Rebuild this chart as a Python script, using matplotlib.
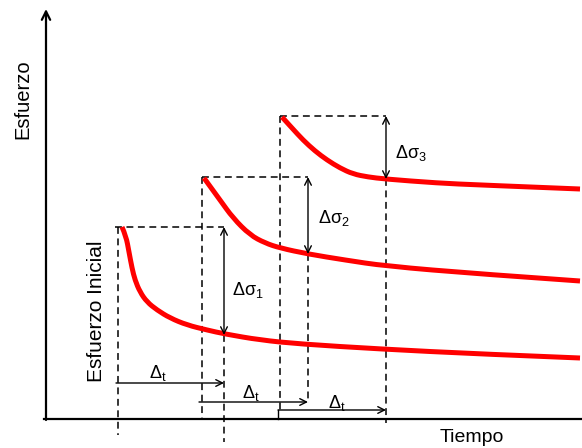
import numpy as np
import matplotlib
matplotlib.use("Agg")
import matplotlib.pyplot as plt
from matplotlib.path import Path
from matplotlib.patches import PathPatch

plt.rcParams['font.family'] = ['Liberation Sans', 'DejaVu Sans']
plt.rcParams['mathtext.fontset'] = 'custom'
plt.rcParams['mathtext.rm'] = 'Liberation Sans'
plt.rcParams['mathtext.it'] = 'Liberation Sans:italic'

# relaxation curves (time, stress) in chart units, y grows downward
curve1_t = [122, 126, 129, 132, 135, 140, 147, 157, 170, 187, 207, 225, 260, 300, 380, 480, 580]
curve1_s = [227, 236, 252, 268, 280, 292, 302, 310, 318, 325, 330, 334, 340, 344, 349, 354, 358]
curve2_t = [204, 212, 220, 233, 250, 265, 280, 308, 345, 385, 480, 580]
curve2_s = [178, 189, 200, 218, 235, 243, 248, 254, 260, 266, 274, 281]
curve3_t = [282, 292, 303, 315, 327, 340, 353, 368, 385, 437, 480, 580]
curve3_s = [117, 128, 140, 151, 160, 168, 174, 177, 179, 183, 185, 189]

# loading steps
start_t = [118, 202, 280]
end_t = [224, 308, 386]
initial_s = [227, 177, 116]
relaxed_s = [335, 254, 179]
left_guide_bottom = [435, 418, 410]
right_guide_bottom = [442, 403, 423]
dt_level = [383, 402, 410]
dt_start = [116, 199, 278]
dsig_labels = [r'$\mathrm{\Delta\sigma_1}$', r'$\mathrm{\Delta\sigma_2}$', r'$\mathrm{\Delta\sigma_3}$']
dsig_label_pos = [(232, 290), (318, 218), (395, 153)]
dt_label_pos = [(158, 373), (251, 393), (337, 403)]

origin_x, origin_y = 46, 419


def smooth_path(t, s):
    # quadratic bezier through midpoints, using the read points as controls
    pts = list(zip(t, s))
    verts = [pts[0]]
    codes = [Path.MOVETO]
    for k in range(1, len(pts) - 1):
        mid = ((pts[k][0] + pts[k + 1][0]) / 2, (pts[k][1] + pts[k + 1][1]) / 2)
        if k == len(pts) - 2:
            mid = pts[k + 1]
        verts += [pts[k], mid]
        codes += [Path.CURVE3, Path.CURVE3]
    return Path(verts, codes)


fig = plt.figure(figsize=(5.82, 4.48), dpi=100)
ax = fig.add_axes([0, 0, 1, 1])
ax.set_xlim(0, 582)
ax.set_ylim(448, 0)
ax.axis('off')

red = '#ff0000'
for t, s in [(curve1_t, curve1_s), (curve2_t, curve2_s), (curve3_t, curve3_s)]:
    ax.add_patch(PathPatch(smooth_path(t, s), facecolor='none', edgecolor=red,
                           lw=3.6, capstyle='butt', zorder=3))

dash = dict(color='black', lw=1.1, ls=(0, (4.5, 3)), zorder=2)
arrow = dict(arrowstyle='->', color='black', lw=1.0, mutation_scale=12, shrinkA=0, shrinkB=0)
for i in range(3):
    # horizontal guide at initial stress
    ax.plot([start_t[i] - (3 if i == 0 else 0), end_t[i]], [initial_s[i]] * 2, **dash)
    # vertical guides
    ax.plot([start_t[i]] * 2, [initial_s[i], left_guide_bottom[i]], **dash)
    ax.plot([end_t[i]] * 2, [relaxed_s[i], right_guide_bottom[i]], **dash)
    # stress drop arrow
    ax.annotate('', xy=(end_t[i], relaxed_s[i]), xytext=(end_t[i], initial_s[i]),
                arrowprops=dict(arrow, arrowstyle='<->'))
    ax.text(dsig_label_pos[i][0], dsig_label_pos[i][1], dsig_labels[i],
            fontsize=13, ha='left', va='center')
    # time step arrow
    ax.annotate('', xy=(end_t[i], dt_level[i]), xytext=(dt_start[i], dt_level[i]),
                arrowprops=arrow)
    ax.text(dt_label_pos[i][0], dt_label_pos[i][1], r'$\mathrm{\Delta_t}$',
            fontsize=13, ha='center', va='center')

ax.plot([dt_start[2]] * 2, [origin_y, dt_level[2]], color='black', lw=1.0)

# axes
ax.plot([origin_x - 2, 582], [origin_y, origin_y], color='black', lw=1.6)
ax.annotate('', xy=(origin_x, 9), xytext=(origin_x, origin_y + 1),
            arrowprops=dict(arrowstyle='->', color='black', lw=1.6,
                            mutation_scale=15, shrinkA=0, shrinkB=0))

ax.text(23, 99, 'Esfuerzo', rotation=90, fontsize=14.5, ha='center', va='center')
ax.text(97, 311, 'Esfuerzo Inicial', rotation=90, fontsize=15, ha='center', va='center')
ax.text(472, 437, 'Tiempo', fontsize=14, ha='center', va='center')

fig.savefig('out.png', dpi=100)
